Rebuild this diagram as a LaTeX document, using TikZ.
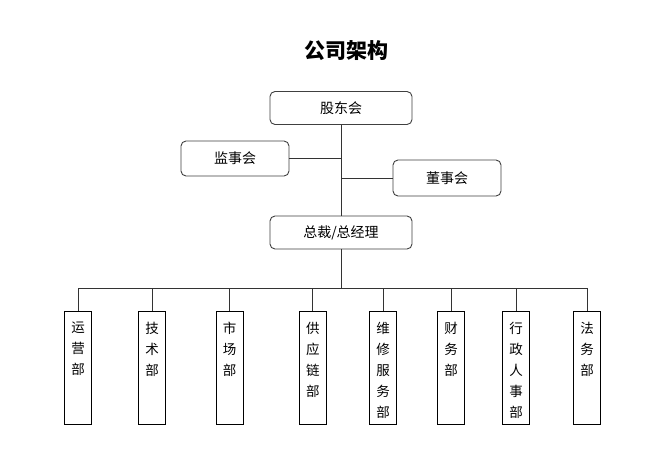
\documentclass[tikz,border=0pt]{standalone}
\usepackage{fontspec}
\setmainfont{Noto Sans CJK SC}
\newfontfamily\cjk{Noto Sans CJK SC}
\begin{document}
\begin{tikzpicture}[x=1pt,y=-1pt,
  rbox/.style={draw=black!75,line width=0.9pt,rounded corners=5pt,minimum width=#1,minimum height=33pt,inner sep=0pt,font=\cjk\fontsize{14}{16}\selectfont},
  rbox/.default=142pt,
  deptbox/.style={draw=black,line width=0.9pt,minimum width=27.5pt,minimum height=113pt,inner sep=0pt},
  depttext/.style={anchor=north,inner sep=0pt,align=center,font=\cjk\fontsize{13.5}{21}\selectfont},
  conn/.style={draw=black!80,line width=0.9pt}]
\useasboundingbox[fill=white] (0,0) rectangle (672,453);
\node[font=\cjk\bfseries\fontsize{21}{24}\selectfont] (title) at (346,51) {公司架构};
\node[rbox] (gd) at (341,108) {股东会};
\node[rbox=108pt,minimum height=35pt] (js) at (235,158.5) {监事会};
\node[rbox=108pt,minimum height=36pt] (ds) at (447,178) {董事会};
\node[rbox] (zc) at (341,232.5) {总裁/总经理};
\draw[conn] (gd.south) -- (zc.north);
\draw[conn] (js.east) -- (js.east -| gd.south);
\draw[conn] (ds.west) -- (ds.west -| gd.south);
\coordinate (bus) at (341,288);
\draw[conn] (zc.south) -- (bus);
\foreach \n/\x/\t in {d1/78/运\\营\\部, d2/152/技\\术\\部, d3/229.7/市\\场\\部, d4/312.8/供\\应\\链\\部, d5/383/维\\修\\服\\务\\部, d6/451/财\\务\\部, d7/516/行\\政\\人\\事\\部, d8/587/法\\务\\部}{
  \node[deptbox] (\n) at (\x,367.5) {};
  \node[depttext] (\n t) at ([yshift=-11.5pt]\n.north) {\t};
  \draw[conn] (bus -| \n.north) -- (\n.north);
}
\draw[conn] (bus -| d1.north) -- (bus -| d8.north);
\end{tikzpicture}
\end{document}
